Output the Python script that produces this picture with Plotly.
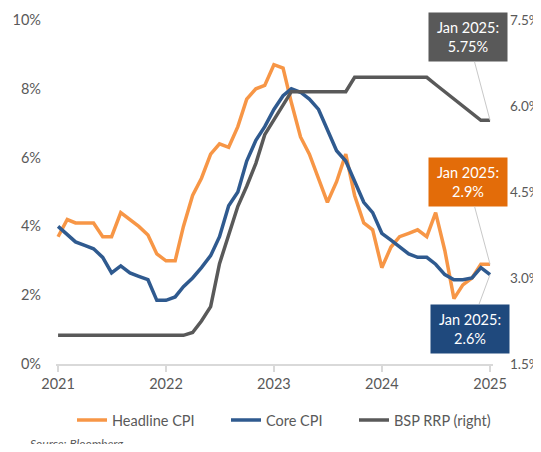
import pandas as pd
import plotly.graph_objects as go

months = pd.date_range("2021-01-01", "2025-01-01", freq="MS").strftime("%Y-%m-%d").tolist()

headline_cpi = [
    3.7, 4.2, 4.1, 4.1, 4.1, 3.7, 3.7, 4.4, 4.2, 4.0, 3.75, 3.2,
    3.0, 3.0, 4.0, 4.9, 5.4, 6.1, 6.4, 6.3, 6.9, 7.7, 8.0, 8.1,
    8.7, 8.6, 7.6, 6.6, 6.1, 5.4, 4.7, 5.3, 6.1, 4.9, 4.1, 3.9,
    2.8, 3.4, 3.7, 3.8, 3.9, 3.7, 4.4, 3.3, 1.9, 2.3, 2.5, 2.9,
    2.9,
]
core_cpi = [
    4.0, 3.75, 3.55, 3.45, 3.35, 3.1, 2.65, 2.85, 2.65, 2.55, 2.45, 1.85,
    1.85, 1.95, 2.25, 2.5, 2.8, 3.15, 3.7, 4.6, 5.0, 5.9, 6.5, 6.9,
    7.4, 7.8, 8.0, 7.9, 7.7, 7.4, 6.8, 6.2, 5.9, 5.3, 4.7, 4.4,
    3.8, 3.6, 3.4, 3.2, 3.1, 3.1, 2.9, 2.6, 2.45, 2.45, 2.5, 2.8,
    2.6,
]
bsp_rrp = [
    2.0, 2.0, 2.0, 2.0, 2.0, 2.0, 2.0, 2.0, 2.0, 2.0, 2.0, 2.0,
    2.0, 2.0, 2.0, 2.05, 2.25, 2.5, 3.25, 3.75, 4.25, 4.6, 5.0, 5.5,
    5.75, 6.0, 6.25, 6.25, 6.25, 6.25, 6.25, 6.25, 6.25, 6.5, 6.5, 6.5,
    6.5, 6.5, 6.5, 6.5, 6.5, 6.5, 6.375, 6.25, 6.125, 6.0, 5.875, 5.75,
    5.75,
]

year_ticks = ["2021-01-01", "2022-01-01", "2023-01-01", "2024-01-01", "2025-01-01"]
year_labels = ["2021", "2022", "2023", "2024", "2025"]

series_names = ["Headline CPI", "Core CPI", "BSP RRP (right)"]
line_colors = ["#F79646", "#2F5A8F", "#595959"]
box_texts = ["Jan 2025:<br>2.9%", "Jan 2025:<br>2.6%", "Jan 2025:<br>5.75%"]
box_colors = ["#E36C09", "#1F497D", "#595959"]

FONT = "Lato, 'Liberation Sans', Arial, sans-serif"
GRAY = "#595959"
FS = 14.5

fig = go.Figure()
fig.add_trace(go.Scatter(x=months, y=headline_cpi, name=series_names[0], mode="lines",
                         legendwidth=109, line=dict(color=line_colors[0], width=3.5)))
fig.add_trace(go.Scatter(x=months, y=core_cpi, name=series_names[1], mode="lines",
                         legendwidth=83, line=dict(color=line_colors[1], width=3.5)))
fig.add_trace(go.Scatter(x=months, y=bsp_rrp, name=series_names[2], mode="lines",
                         legendwidth=100, line=dict(color=line_colors[2], width=3.5), yaxis="y2"))

ann_common = dict(showarrow=True, arrowhead=0, arrowwidth=1, arrowcolor="#C8C8C8",
                  font=dict(family=FONT, size=FS, color="white"),
                  width=72, height=42, borderpad=3, align="center", axref="pixel", ayref="pixel")

fig.add_annotation(x=months[-1], y=headline_cpi[-1], xref="x", yref="y",
                   text=box_texts[0], bgcolor=box_colors[0], ax=-22, ay=-82, **ann_common)
fig.add_annotation(x=months[-1], y=core_cpi[-1], xref="x", yref="y",
                   text=box_texts[1], bgcolor=box_colors[1], ax=-20, ay=54, **ann_common)
fig.add_annotation(x=months[-1], y=bsp_rrp[-1], xref="x", yref="y2",
                   text=box_texts[2], bgcolor=box_colors[2], ax=-22, ay=-83, **ann_common)

fig.add_annotation(text="<i>Source: Bloomberg</i>", xref="paper", yref="paper",
                   x=-0.064, y=-0.232, xanchor="left", yanchor="middle", showarrow=False,
                   font=dict(family=FONT, size=12, color=GRAY))

# the page body has an 8px default margin on every side, so the figure is 16px smaller
# than the window in height (no scrollbar) and placed 8px in from the top-left corner
fig.update_layout(
    width=533, height=436,
    margin=dict(l=48, r=48, t=12, b=80, autoexpand=False),
    paper_bgcolor="white", plot_bgcolor="white",
    font=dict(family=FONT, size=FS, color=GRAY),
    showlegend=True,
    legend=dict(orientation="h", x=0.0366, xanchor="left", y=-0.163, yanchor="middle",
                font=dict(family=FONT, size=FS, color=GRAY), bgcolor="rgba(0,0,0,0)"),
    xaxis=dict(type="date", range=["2020-12-25", "2025-01-11"], automargin=False,
               tickvals=year_ticks, ticktext=year_labels,
               showline=True, linecolor="#D9D9D9", linewidth=1.5,
               ticks="outside", ticklen=6, tickcolor="#D9D9D9", tickwidth=1.5,
               showgrid=False, zeroline=False,
               tickfont=dict(family=FONT, size=FS, color=GRAY)),
    yaxis=dict(range=[0, 10], dtick=2, ticksuffix="%", showgrid=False, zeroline=False,
               automargin=False, showline=False, ticks="", ticklabelstandoff=14,
               tickfont=dict(family=FONT, size=FS, color=GRAY)),
    yaxis2=dict(range=[1.5, 7.5], dtick=1.5, tick0=1.5, tickformat=".1f", ticksuffix="%",
                overlaying="y", side="right", showgrid=False, zeroline=False, automargin=False,
                showline=False, ticks="", ticklabelstandoff=16,
                tickfont=dict(family=FONT, size=13.5, color=GRAY)),
)

fig.write_html("out.html")
